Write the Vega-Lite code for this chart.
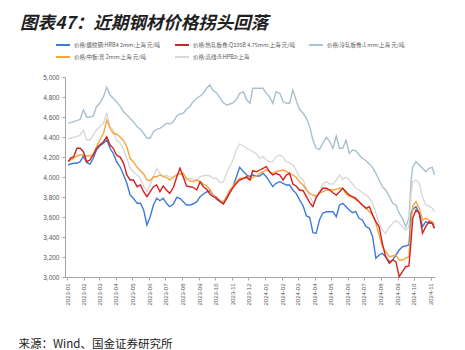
{
 "$schema": "https://vega.github.io/schema/vega-lite/v6.json",
 "width": 370,
 "height": 200,
 "autosize": {"type": "none"},
 "padding": {"left": 65, "top": 77, "right": 30, "bottom": 73},
 "background": "white",
 "title": {"text": "图表47：近期钢材价格拐头回落", "anchor": "start", "frame": "group", "dx": -45, "offset": 5, "font": "Noto Sans CJK SC", "fontSize": 17.5, "fontWeight": "bold", "fontStyle": "italic", "color": "#1f1f1f"},
 "config": {"view": {"stroke": null}, "font": "Liberation Sans"},
 "data": {"values": [
  {"d":"2023-01-03","rebar":4120,"hrc":4153,"crc":4537,"plate":4153,"wire":4387},
  {"d":"2023-01-07","rebar":4130,"hrc":4187,"crc":4543,"plate":4170,"wire":4387},
  {"d":"2023-01-13","rebar":4137,"hrc":4203,"crc":4553,"plate":4187,"wire":4397},
  {"d":"2023-01-19","rebar":4137,"hrc":4287,"crc":4563,"plate":4210,"wire":4403},
  {"d":"2023-01-25","rebar":4153,"hrc":4287,"crc":4577,"plate":4220,"wire":4420},
  {"d":"2023-01-31","rebar":4210,"hrc":4253,"crc":4670,"plate":4220,"wire":4470},
  {"d":"2023-02-06","rebar":4143,"hrc":4153,"crc":4597,"plate":4210,"wire":4370},
  {"d":"2023-02-12","rebar":4130,"hrc":4170,"crc":4597,"plate":4210,"wire":4370},
  {"d":"2023-02-18","rebar":4187,"hrc":4220,"crc":4610,"plate":4230,"wire":4420},
  {"d":"2023-02-24","rebar":4270,"hrc":4287,"crc":4703,"plate":4303,"wire":4470},
  {"d":"2023-03-02","rebar":4310,"hrc":4320,"crc":4737,"plate":4370,"wire":4503},
  {"d":"2023-03-09","rebar":4337,"hrc":4353,"crc":4803,"plate":4437,"wire":4537},
  {"d":"2023-03-15","rebar":4370,"hrc":4403,"crc":4897,"plate":4570,"wire":4637},
  {"d":"2023-03-21","rebar":4287,"hrc":4320,"crc":4820,"plate":4487,"wire":4503},
  {"d":"2023-03-27","rebar":4237,"hrc":4287,"crc":4787,"plate":4437,"wire":4470},
  {"d":"2023-04-02","rebar":4153,"hrc":4220,"crc":4753,"plate":4430,"wire":4370},
  {"d":"2023-04-09","rebar":4097,"hrc":4197,"crc":4703,"plate":4397,"wire":4337},
  {"d":"2023-04-15","rebar":4020,"hrc":4137,"crc":4653,"plate":4363,"wire":4270},
  {"d":"2023-04-21","rebar":3937,"hrc":4020,"crc":4620,"plate":4303,"wire":4187},
  {"d":"2023-04-27","rebar":3820,"hrc":3970,"crc":4587,"plate":4187,"wire":4087},
  {"d":"2023-05-03","rebar":3787,"hrc":3970,"crc":4553,"plate":4153,"wire":4053},
  {"d":"2023-05-10","rebar":3737,"hrc":3903,"crc":4503,"plate":4097,"wire":4020},
  {"d":"2023-05-16","rebar":3737,"hrc":3920,"crc":4477,"plate":4063,"wire":3987},
  {"d":"2023-05-22","rebar":3670,"hrc":3853,"crc":4437,"plate":4030,"wire":3903},
  {"d":"2023-05-28","rebar":3520,"hrc":3803,"crc":4387,"plate":3970,"wire":3853},
  {"d":"2023-06-03","rebar":3603,"hrc":3853,"crc":4387,"plate":3963,"wire":3920},
  {"d":"2023-06-09","rebar":3720,"hrc":3903,"crc":4453,"plate":4003,"wire":4003},
  {"d":"2023-06-15","rebar":3787,"hrc":3920,"crc":4477,"plate":4003,"wire":4087},
  {"d":"2023-06-21","rebar":3763,"hrc":3853,"crc":4487,"plate":4020,"wire":4037},
  {"d":"2023-06-27","rebar":3787,"hrc":3910,"crc":4510,"plate":4003,"wire":4003},
  {"d":"2023-07-03","rebar":3737,"hrc":3870,"crc":4537,"plate":3997,"wire":4020},
  {"d":"2023-07-09","rebar":3703,"hrc":3837,"crc":4530,"plate":3970,"wire":3997},
  {"d":"2023-07-16","rebar":3730,"hrc":3897,"crc":4553,"plate":3997,"wire":4003},
  {"d":"2023-07-22","rebar":3797,"hrc":4003,"crc":4610,"plate":4020,"wire":4020},
  {"d":"2023-07-28","rebar":3787,"hrc":4087,"crc":4630,"plate":4030,"wire":4037},
  {"d":"2023-08-03","rebar":3753,"hrc":4003,"crc":4637,"plate":4037,"wire":4003},
  {"d":"2023-08-09","rebar":3720,"hrc":3910,"crc":4677,"plate":3987,"wire":3970},
  {"d":"2023-08-15","rebar":3720,"hrc":3903,"crc":4703,"plate":3963,"wire":3987},
  {"d":"2023-08-21","rebar":3730,"hrc":3897,"crc":4753,"plate":3953,"wire":3977},
  {"d":"2023-08-28","rebar":3753,"hrc":3870,"crc":4787,"plate":3970,"wire":3970},
  {"d":"2023-09-03","rebar":3803,"hrc":3953,"crc":4810,"plate":3953,"wire":4003},
  {"d":"2023-09-09","rebar":3830,"hrc":3903,"crc":4837,"plate":3930,"wire":4013},
  {"d":"2023-09-15","rebar":3850,"hrc":3877,"crc":4887,"plate":3910,"wire":4020},
  {"d":"2023-09-21","rebar":3863,"hrc":3830,"crc":4920,"plate":3877,"wire":4010},
  {"d":"2023-09-27","rebar":3820,"hrc":3803,"crc":4863,"plate":3820,"wire":3987},
  {"d":"2023-10-03","rebar":3777,"hrc":3797,"crc":4843,"plate":3787,"wire":3987},
  {"d":"2023-10-10","rebar":3753,"hrc":3753,"crc":4787,"plate":3763,"wire":3943},
  {"d":"2023-10-16","rebar":3737,"hrc":3730,"crc":4743,"plate":3753,"wire":3953},
  {"d":"2023-10-22","rebar":3787,"hrc":3787,"crc":4720,"plate":3810,"wire":4043},
  {"d":"2023-10-28","rebar":3853,"hrc":3843,"crc":4730,"plate":3870,"wire":4110},
  {"d":"2023-11-03","rebar":3910,"hrc":3897,"crc":4743,"plate":3910,"wire":4170},
  {"d":"2023-11-09","rebar":4003,"hrc":3937,"crc":4777,"plate":3953,"wire":4277},
  {"d":"2023-11-15","rebar":4097,"hrc":3970,"crc":4837,"plate":3987,"wire":4330},
  {"d":"2023-11-22","rebar":4053,"hrc":3987,"crc":4853,"plate":3987,"wire":4310},
  {"d":"2023-11-28","rebar":4020,"hrc":4003,"crc":4770,"plate":3987,"wire":4287},
  {"d":"2023-12-04","rebar":4003,"hrc":3970,"crc":4737,"plate":3970,"wire":4270},
  {"d":"2023-12-09","rebar":4020,"hrc":4063,"crc":4887,"plate":3997,"wire":4253},
  {"d":"2023-12-16","rebar":4010,"hrc":4053,"crc":4887,"plate":4010,"wire":4230},
  {"d":"2023-12-22","rebar":4010,"hrc":4070,"crc":4887,"plate":4037,"wire":4187},
  {"d":"2023-12-28","rebar":4037,"hrc":4087,"crc":4887,"plate":4053,"wire":4203},
  {"d":"2024-01-03","rebar":4003,"hrc":4103,"crc":4837,"plate":4070,"wire":4170},
  {"d":"2024-01-09","rebar":3953,"hrc":4053,"crc":4803,"plate":4053,"wire":4153},
  {"d":"2024-01-15","rebar":3903,"hrc":4020,"crc":4737,"plate":4037,"wire":4153},
  {"d":"2024-01-21","rebar":3937,"hrc":4037,"crc":4853,"plate":4053,"wire":4203},
  {"d":"2024-01-28","rebar":3953,"hrc":4020,"crc":4837,"plate":4063,"wire":4220},
  {"d":"2024-02-03","rebar":3937,"hrc":3970,"crc":4753,"plate":4070,"wire":4197},
  {"d":"2024-02-09","rebar":3920,"hrc":4020,"crc":4737,"plate":4053,"wire":4153},
  {"d":"2024-02-15","rebar":3920,"hrc":4037,"crc":4737,"plate":4037,"wire":4143},
  {"d":"2024-02-21","rebar":3870,"hrc":3930,"crc":4870,"plate":4020,"wire":4120},
  {"d":"2024-02-27","rebar":3837,"hrc":3910,"crc":4770,"plate":3997,"wire":4070},
  {"d":"2024-03-04","rebar":3777,"hrc":3870,"crc":4677,"plate":3953,"wire":4003},
  {"d":"2024-03-11","rebar":3710,"hrc":3863,"crc":4637,"plate":3920,"wire":3970},
  {"d":"2024-03-17","rebar":3610,"hrc":3803,"crc":4587,"plate":3870,"wire":3877},
  {"d":"2024-03-23","rebar":3597,"hrc":3743,"crc":4503,"plate":3837,"wire":3810},
  {"d":"2024-03-29","rebar":3443,"hrc":3703,"crc":4370,"plate":3820,"wire":3743},
  {"d":"2024-04-04","rebar":3437,"hrc":3797,"crc":4287,"plate":3810,"wire":3777},
  {"d":"2024-04-10","rebar":3570,"hrc":3843,"crc":4277,"plate":3837,"wire":3853},
  {"d":"2024-04-16","rebar":3637,"hrc":3887,"crc":4337,"plate":3853,"wire":3930},
  {"d":"2024-04-23","rebar":3653,"hrc":3887,"crc":4397,"plate":3870,"wire":3953},
  {"d":"2024-04-29","rebar":3653,"hrc":3870,"crc":4353,"plate":3870,"wire":3930},
  {"d":"2024-05-05","rebar":3653,"hrc":3843,"crc":4287,"plate":3870,"wire":3930},
  {"d":"2024-05-11","rebar":3603,"hrc":3820,"crc":4410,"plate":3877,"wire":3970},
  {"d":"2024-05-17","rebar":3720,"hrc":3853,"crc":4287,"plate":3887,"wire":4020},
  {"d":"2024-05-23","rebar":3737,"hrc":3887,"crc":4287,"plate":3887,"wire":3977},
  {"d":"2024-05-29","rebar":3703,"hrc":3853,"crc":4370,"plate":3830,"wire":3997},
  {"d":"2024-06-04","rebar":3670,"hrc":3820,"crc":4237,"plate":3810,"wire":3970},
  {"d":"2024-06-10","rebar":3643,"hrc":3803,"crc":4270,"plate":3797,"wire":3930},
  {"d":"2024-06-16","rebar":3653,"hrc":3787,"crc":4263,"plate":3770,"wire":3887},
  {"d":"2024-06-22","rebar":3587,"hrc":3753,"crc":4220,"plate":3753,"wire":3870},
  {"d":"2024-06-28","rebar":3570,"hrc":3720,"crc":4187,"plate":3720,"wire":3843},
  {"d":"2024-07-05","rebar":3503,"hrc":3687,"crc":4163,"plate":3687,"wire":3820},
  {"d":"2024-07-11","rebar":3487,"hrc":3703,"crc":4130,"plate":3653,"wire":3787},
  {"d":"2024-07-17","rebar":3403,"hrc":3620,"crc":4097,"plate":3620,"wire":3737},
  {"d":"2024-07-23","rebar":3187,"hrc":3553,"crc":4037,"plate":3537,"wire":3637},
  {"d":"2024-07-29","rebar":3220,"hrc":3503,"crc":3970,"plate":3420,"wire":3537},
  {"d":"2024-08-04","rebar":3237,"hrc":3337,"crc":3903,"plate":3303,"wire":3470},
  {"d":"2024-08-10","rebar":3203,"hrc":3203,"crc":3870,"plate":3253,"wire":3437},
  {"d":"2024-08-17","rebar":3153,"hrc":3137,"crc":3803,"plate":3203,"wire":3503},
  {"d":"2024-08-23","rebar":3170,"hrc":3170,"crc":3737,"plate":3210,"wire":3537},
  {"d":"2024-08-29","rebar":3220,"hrc":3153,"crc":3720,"plate":3220,"wire":3563},
  {"d":"2024-09-04","rebar":3270,"hrc":3003,"crc":3637,"plate":3170,"wire":3543},
  {"d":"2024-09-10","rebar":3303,"hrc":3053,"crc":3587,"plate":3170,"wire":3503},
  {"d":"2024-09-16","rebar":3310,"hrc":3103,"crc":3503,"plate":3187,"wire":3470},
  {"d":"2024-09-22","rebar":3320,"hrc":3110,"crc":3587,"plate":3203,"wire":3503},
  {"d":"2024-09-26","rebar":3637,"hrc":3370,"crc":3970,"plate":3537,"wire":3837},
  {"d":"2024-09-29","rebar":3677,"hrc":3587,"crc":4103,"plate":3710,"wire":3953},
  {"d":"2024-10-05","rebar":3703,"hrc":3670,"crc":4153,"plate":3753,"wire":3970},
  {"d":"2024-10-11","rebar":3637,"hrc":3637,"crc":4120,"plate":3687,"wire":3937},
  {"d":"2024-10-17","rebar":3503,"hrc":3437,"crc":4087,"plate":3570,"wire":3803},
  {"d":"2024-10-23","rebar":3553,"hrc":3503,"crc":4053,"plate":3587,"wire":3720},
  {"d":"2024-10-29","rebar":3537,"hrc":3553,"crc":4087,"plate":3570,"wire":3710},
  {"d":"2024-11-04","rebar":3537,"hrc":3537,"crc":4097,"plate":3553,"wire":3687},
  {"d":"2024-11-08","rebar":3487,"hrc":3487,"crc":4020,"plate":3520,"wire":3653}
 ]},
 "transform": [{"fold": ["crc", "wire", "rebar", "plate", "hrc"], "as": ["series", "price"]}],
 "mark": {"type": "line", "strokeWidth": 1.4},
 "encoding": {
  "x": {"field": "d", "type": "temporal",
   "scale": {"type": "utc", "domain": [{"year": 2022, "month": 12, "date": 28, "utc": true}, {"year": 2024, "month": 11, "date": 9, "utc": true}]},
   "axis": {"format": "%Y-%m", "labelAngle": -90, "labelFontSize": 6, "labelColor": "#595959", "labelPadding": 3, "tickSize": 3, "tickColor": "#a6a6a6", "domainColor": "#a6a6a6", "grid": false, "labelOverlap": false,
    "values": [
     {"year":2023,"month":1,"date":1,"utc":true},{"year":2023,"month":2,"date":1,"utc":true},{"year":2023,"month":3,"date":1,"utc":true},{"year":2023,"month":4,"date":1,"utc":true},{"year":2023,"month":5,"date":1,"utc":true},{"year":2023,"month":6,"date":1,"utc":true},{"year":2023,"month":7,"date":1,"utc":true},{"year":2023,"month":8,"date":1,"utc":true},{"year":2023,"month":9,"date":1,"utc":true},{"year":2023,"month":10,"date":1,"utc":true},{"year":2023,"month":11,"date":1,"utc":true},{"year":2023,"month":12,"date":1,"utc":true},
     {"year":2024,"month":1,"date":1,"utc":true},{"year":2024,"month":2,"date":1,"utc":true},{"year":2024,"month":3,"date":1,"utc":true},{"year":2024,"month":4,"date":1,"utc":true},{"year":2024,"month":5,"date":1,"utc":true},{"year":2024,"month":6,"date":1,"utc":true},{"year":2024,"month":7,"date":1,"utc":true},{"year":2024,"month":8,"date":1,"utc":true},{"year":2024,"month":9,"date":1,"utc":true},{"year":2024,"month":10,"date":1,"utc":true},{"year":2024,"month":11,"date":1,"utc":true}
    ],
    "title": "来源：Wind、国金证券研究所", "titleAnchor": "start", "titleAlign": "left", "titleX": -47, "titleY": 70, "titleBaseline": "alphabetic", "titleFont": "Noto Sans CJK SC", "titleFontSize": 11.5, "titleFontWeight": "normal", "titleColor": "#222222"}},
  "y": {"field": "price", "type": "quantitative",
   "scale": {"domain": [3000, 5000], "nice": false, "zero": false},
   "axis": {"values": [3000, 3200, 3400, 3600, 3800, 4000, 4200, 4400, 4600, 4800, 5000], "format": ",.0f", "labelFontSize": 6.5, "labelColor": "#595959", "labelPadding": 3, "tickSize": 3, "tickColor": "#a6a6a6", "domainColor": "#a6a6a6", "grid": false, "title": null}},
  "color": {"field": "series", "type": "nominal",
   "scale": {"domain": ["rebar", "hrc", "crc", "plate", "wire"], "range": ["#3d7bd6", "#d42020", "#a9c0cd", "#f5a53c", "#d9d9d9"]},
   "legend": {"orient": "none", "legendX": -10, "legendY": -40, "columns": 3, "direction": "horizontal", "title": null, "symbolType": "stroke", "symbolSize": 196, "symbolStrokeWidth": 2, "labelFont": "Noto Sans CJK SC", "labelFontSize": 5.5, "labelColor": "#595959", "labelLimit": 300, "labelOffset": 3, "columnPadding": 8, "rowPadding": 0, "gridAlign": "each",
    "labelExpr": "{'rebar': '价格:螺纹钢:HRB4  2mm:上海  元/吨', 'hrc': '价格:热轧板卷:Q235B 4.75mm:上海  元/吨', 'crc': '价格:冷轧板卷:1 mm:上海  元/吨', 'plate': '价格:中板:普 2mm:上海  元/吨', 'wire': '价格:高线:8:HPB3:上海'}[datum.label]"}}
 }
}
